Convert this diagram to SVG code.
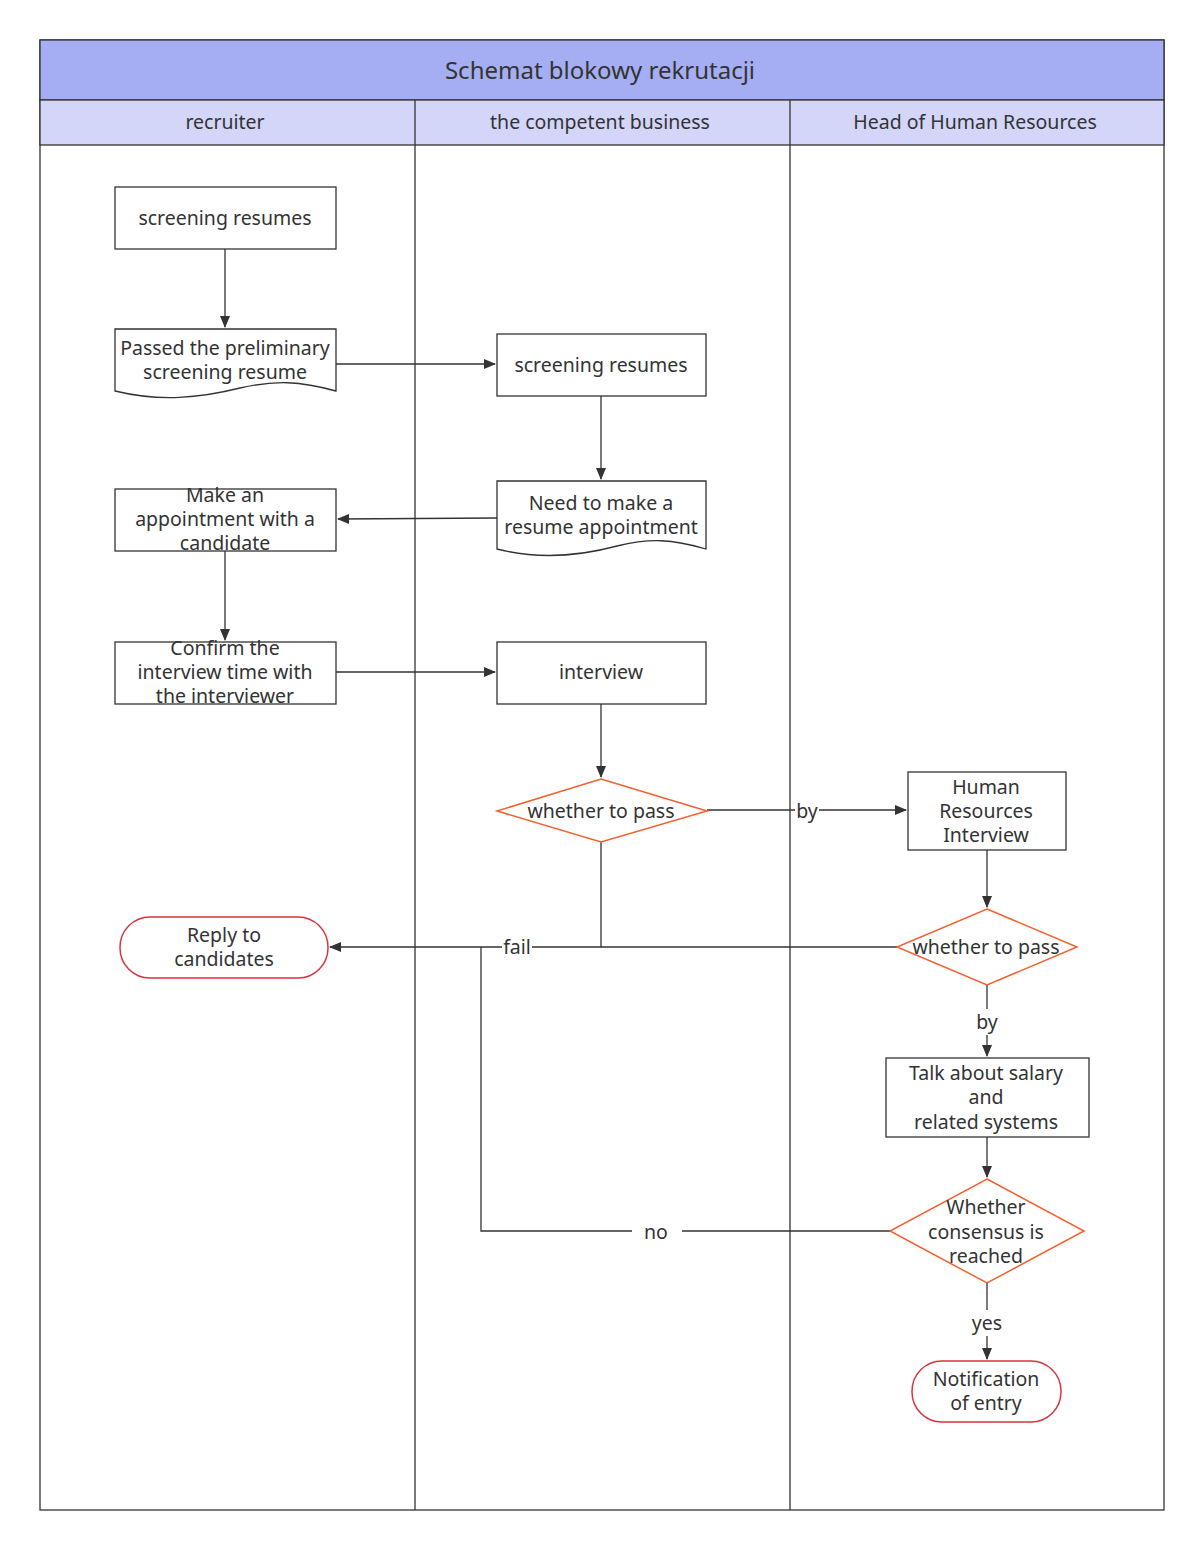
<svg xmlns="http://www.w3.org/2000/svg" width="1200" height="1546" viewBox="0 0 1200 1546">
<defs>
<marker id="arr" markerWidth="12" markerHeight="10" refX="11" refY="5" orient="auto" markerUnits="userSpaceOnUse">
<path d="M0,0 L12,5 L0,10 Z" fill="#333"/>
</marker>
<style>
text{font-family:"Noto Sans","Open Sans","DejaVu Sans",sans-serif;fill:#333;text-anchor:middle;dominant-baseline:central}
.t{font-size:19.5px}
.box{fill:#fff;stroke:#333;stroke-width:1.3}
.dia{fill:#fff;stroke:#f4602e;stroke-width:1.5}
.term{fill:#fff;stroke:#d9333f;stroke-width:1.5}
.ln{fill:none;stroke:#333;stroke-width:1.3}
.lbl{fill:#fff;stroke:none}
</style>
</defs>
<rect width="1200" height="1546" fill="#fff"/>
<g id="pool">
<rect x="40" y="40" width="1124" height="1470" fill="#fff" stroke="#333" stroke-width="1.3"/>
<rect x="40" y="40" width="1124" height="60" fill="#a5aef2" stroke="#333" stroke-width="1.3"/>
<text x="600" y="69" style="font-size:24px">Schemat blokowy rekrutacji</text>
<rect x="40" y="100" width="1124" height="45" fill="#d3d6f8" stroke="#333" stroke-width="1.3"/>
<line x1="415" y1="100" x2="415" y2="1510" stroke="#333" stroke-width="1.3"/>
<line x1="790" y1="100" x2="790" y2="1510" stroke="#333" stroke-width="1.3"/>
<text class="t" x="225" y="121">recruiter</text>
<text class="t" x="600" y="121">the competent business</text>
<text class="t" x="975" y="121">Head of Human Resources</text>
</g>
<g id="connectors">
<line class="ln" x1="225" y1="249" x2="225" y2="327" marker-end="url(#arr)"/>
<line class="ln" x1="336" y1="364" x2="495" y2="364" marker-end="url(#arr)"/>
<line class="ln" x1="601" y1="396" x2="601" y2="479" marker-end="url(#arr)"/>
<line class="ln" x1="497" y1="518" x2="338" y2="519" marker-end="url(#arr)"/>
<line class="ln" x1="225" y1="551" x2="225" y2="640" marker-end="url(#arr)"/>
<line class="ln" x1="336" y1="672" x2="495" y2="672" marker-end="url(#arr)"/>
<line class="ln" x1="601" y1="704" x2="601" y2="777" marker-end="url(#arr)"/>
<line class="ln" x1="707" y1="810" x2="906" y2="810" marker-end="url(#arr)"/>
<rect class="lbl" x="795" y="798" width="24" height="24"/>
<text class="t" x="807" y="810">by</text>
<polyline class="ln" points="601,842 601,947 330,947" marker-end="url(#arr)"/>
<line class="ln" x1="897" y1="947" x2="601" y2="947"/>
<rect class="lbl" x="502" y="935" width="30" height="24"/>
<text class="t" x="517" y="946">fail</text>
<line class="ln" x1="987" y1="850" x2="987" y2="907" marker-end="url(#arr)"/>
<line class="ln" x1="987" y1="985" x2="987" y2="1056" marker-end="url(#arr)"/>
<rect class="lbl" x="972" y="1009" width="30" height="26"/>
<text class="t" x="987" y="1021">by</text>
<line class="ln" x1="987" y1="1137" x2="987" y2="1177" marker-end="url(#arr)"/>
<polyline class="ln" points="890,1231 481,1231 481,947"/>
<rect class="lbl" x="632" y="1218" width="50" height="26"/>
<text class="t" x="656" y="1231">no</text>
<line class="ln" x1="987" y1="1283" x2="987" y2="1359" marker-end="url(#arr)"/>
<rect class="lbl" x="970" y="1310" width="34" height="26"/>
<text class="t" x="987" y="1322">yes</text>
</g>
<g id="n1">
<rect class="box" x="115" y="187" width="221" height="62"/>
<text class="t" x="225" y="217">screening resumes</text>
</g>
<g id="n2">
<path class="box" d="M115,329 H336 V391 C300,381 275,380 240,388 C200,398 160,402 115,391 Z"/>
<text class="t" x="225" y="347">Passed the preliminary</text>
<text class="t" x="225" y="371">screening resume</text>
</g>
<g id="n3">
<rect class="box" x="497" y="334" width="209" height="62"/>
<text class="t" x="601" y="364">screening resumes</text>
</g>
<g id="n4">
<path class="box" d="M497,481 H706 V549 C672,539 650,538 617,546 C580,556 540,560 497,549 Z"/>
<text class="t" x="601" y="502">Need to make a</text>
<text class="t" x="601" y="526">resume appointment</text>
</g>
<g id="n5">
<rect class="box" x="115" y="489" width="221" height="62"/>
<text class="t" x="225" y="494">Make an</text>
<text class="t" x="225" y="518">appointment with a</text>
<text class="t" x="225" y="542">candidate</text>
</g>
<g id="n6">
<rect class="box" x="115" y="642" width="221" height="62"/>
<text class="t" x="225" y="647">Confirm the</text>
<text class="t" x="225" y="671">interview time with</text>
<text class="t" x="225" y="695">the interviewer</text>
</g>
<g id="n7">
<rect class="box" x="497" y="642" width="209" height="62"/>
<text class="t" x="601" y="671">interview</text>
</g>
<g id="n8">
<polygon class="dia" points="601,779 707,811 601,842 497,811"/>
<text class="t" x="601" y="810">whether to pass</text>
</g>
<g id="n9">
<rect class="box" x="908" y="772" width="158" height="78"/>
<text class="t" x="986" y="786">Human</text>
<text class="t" x="986" y="810">Resources</text>
<text class="t" x="986" y="834">Interview</text>
</g>
<g id="n10">
<rect class="term" x="120" y="917" width="208" height="61" rx="30" ry="30"/>
<text class="t" x="224" y="934">Reply to</text>
<text class="t" x="224" y="958">candidates</text>
</g>
<g id="n11">
<polygon class="dia" points="987,909 1077,947 987,985 897,947"/>
<text class="t" x="986" y="946">whether to pass</text>
</g>
<g id="n12">
<rect class="box" x="886" y="1058" width="203" height="79"/>
<text class="t" x="986" y="1072">Talk about salary</text>
<text class="t" x="986" y="1096">and</text>
<text class="t" x="986" y="1121">related systems</text>
</g>
<g id="n13">
<polygon class="dia" points="987,1179 1084,1231 987,1283 890,1231"/>
<text class="t" x="986" y="1206">Whether</text>
<text class="t" x="986" y="1231">consensus is</text>
<text class="t" x="986" y="1255">reached</text>
</g>
<g id="n14">
<rect class="term" x="912" y="1361" width="149" height="61" rx="30" ry="30"/>
<text class="t" x="986" y="1378">Notification</text>
<text class="t" x="986" y="1402">of entry</text>
</g>
</svg>
